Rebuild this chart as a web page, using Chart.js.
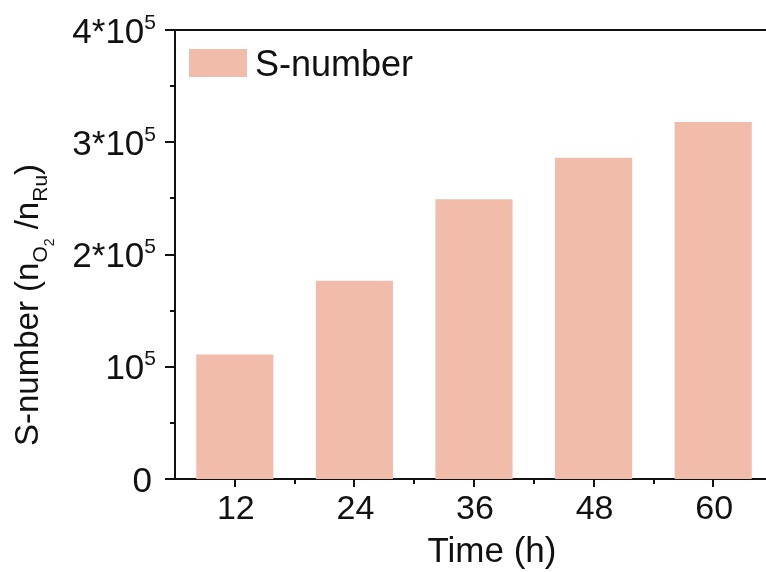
<!DOCTYPE html>
<html>
<head>
<meta charset="utf-8">
<script src="https://cdn.jsdelivr.net/npm/chart.js@4"></script>
<style>
  html, body { margin: 0; padding: 0; background: #fff; overflow: hidden; }
  #wrap { position: absolute; left: 0; top: 0; width: 790px; height: 572px; }
</style>
</head>
<body>
<div id="wrap"><canvas id="chart"></canvas></div>
<script>
// hours of reaction and S-number (n_O2 / n_Ru)
const hours = ["12", "24", "36", "48", "60"];
const sNumber = [111000, 176700, 249200, 286200, 318000];
const yTicks = [0, 100000, 200000, 300000, 400000];
const yTickMant = ["0", "", "2*", "3*", "4*"];

const FONT = "'Liberation Sans', Arial, sans-serif";
const BAR = "#f2bcab";
const INK = "#111";

function font(px) { return px + "px " + FONT; }

// draws text runs one after another: [text, size, dy]
function drawRuns(ctx, x, y, runs) {
  let cx = x;
  runs.forEach(([t, size, dy]) => {
    ctx.font = font(size);
    ctx.fillText(t, cx, y + dy);
    cx += ctx.measureText(t).width;
  });
  return cx;
}

function runsWidth(ctx, runs) {
  let w = 0;
  runs.forEach(([t, size]) => {
    ctx.font = font(size);
    w += ctx.measureText(t).width;
  });
  return w;
}

const axisDecor = {
  id: "axisDecor",
  afterDraw(chart) {
    const { ctx, chartArea: a } = chart;
    const xs = chart.scales.x;
    const ys = chart.scales.y;
    ctx.save();
    ctx.strokeStyle = INK;
    ctx.fillStyle = INK;
    ctx.lineWidth = 2;

    // top frame line, runs off the right edge
    ctx.beginPath();
    ctx.moveTo(a.left, a.top);
    ctx.lineTo(a.right + 20, a.top);
    ctx.stroke();

    // y ticks, major and minor, pointing out
    for (let v = 0; v <= 400000; v += 50000) {
      const py = Math.round(ys.getPixelForValue(v));
      const len = v % 100000 === 0 ? 10 : 5;
      ctx.beginPath();
      ctx.moveTo(a.left - len, py);
      ctx.lineTo(a.left, py);
      ctx.stroke();
    }

    // x ticks: major at each category, minor in between
    for (let i = 0; i < hours.length; i++) {
      const px = Math.round(xs.getPixelForValue(i));
      ctx.beginPath();
      ctx.moveTo(px, a.bottom);
      ctx.lineTo(px, a.bottom + 8);
      ctx.stroke();
      if (i < hours.length - 1) {
        const mx = Math.round((px + xs.getPixelForValue(i + 1)) / 2);
        ctx.beginPath();
        ctx.moveTo(mx, a.bottom);
        ctx.lineTo(mx, a.bottom + 5);
        ctx.stroke();
      }
    }

    // y tick labels with superscript exponent
    ctx.textAlign = "left";
    ctx.textBaseline = "alphabetic";
    yTicks.forEach((v, i) => {
      const py = ys.getPixelForValue(v);
      const runs = v === 0
        ? [["0", 35, 0]]
        : [[yTickMant[i] + "10", 35, 0], ["5", 21, -14]];
      const w = runsWidth(ctx, runs);
      drawRuns(ctx, (v === 0 ? 152 : 156) - w, py + 12.5, runs);
    });

    // x tick labels
    ctx.textAlign = "center";
    ctx.font = font(34);
    hours.forEach((h, i) => {
      ctx.fillText(h, xs.getPixelForValue(i) + 1, a.bottom + 40);
    });

    // x title
    ctx.font = font(35);
    ctx.fillText("Time (h)", 492, 562);

    // y title, rotated
    ctx.save();
    ctx.translate(38, 446);
    ctx.rotate(-Math.PI / 2);
    ctx.textAlign = "left";
    drawRuns(ctx, 0, 0, [
      ["S-number (n", 33, 0],
      ["O", 21, 9],
      ["2", 14, 16],
      [" /n", 33, 0],
      ["Ru", 21, 9],
      [")", 33, 0],
    ]);
    ctx.restore();

    // legend
    ctx.fillStyle = BAR;
    ctx.fillRect(189, 49, 58, 28);
    ctx.fillStyle = INK;
    ctx.textAlign = "left";
    ctx.font = font(36);
    ctx.fillText("S-number", 255, 76);

    ctx.restore();
  },
};

new Chart(document.getElementById("chart"), {
  type: "bar",
  data: {
    labels: hours,
    datasets: [{
      label: "S-number",
      data: sNumber,
      backgroundColor: BAR,
      borderWidth: 0,
      barPercentage: 0.645,
      categoryPercentage: 1,
    }],
  },
  options: {
    responsive: true,
    maintainAspectRatio: false,
    animation: false,
    layout: { padding: { top: 30, right: 17, left: 0, bottom: 0 } },
    plugins: {
      legend: { display: false },
      tooltip: { enabled: false },
    },
    scales: {
      x: {
        offset: true,
        grid: { display: false },
        border: { display: true, color: INK, width: 2 },
        ticks: { display: false },
        afterFit(s) { s.height = 93; },
      },
      y: {
        min: 0,
        max: 400000,
        grid: { display: false },
        border: { display: true, color: INK, width: 2 },
        ticks: { display: false, stepSize: 100000 },
        afterFit(s) { s.width = 175; },
      },
    },
  },
  plugins: [axisDecor],
});
</script>
</body>
</html>
